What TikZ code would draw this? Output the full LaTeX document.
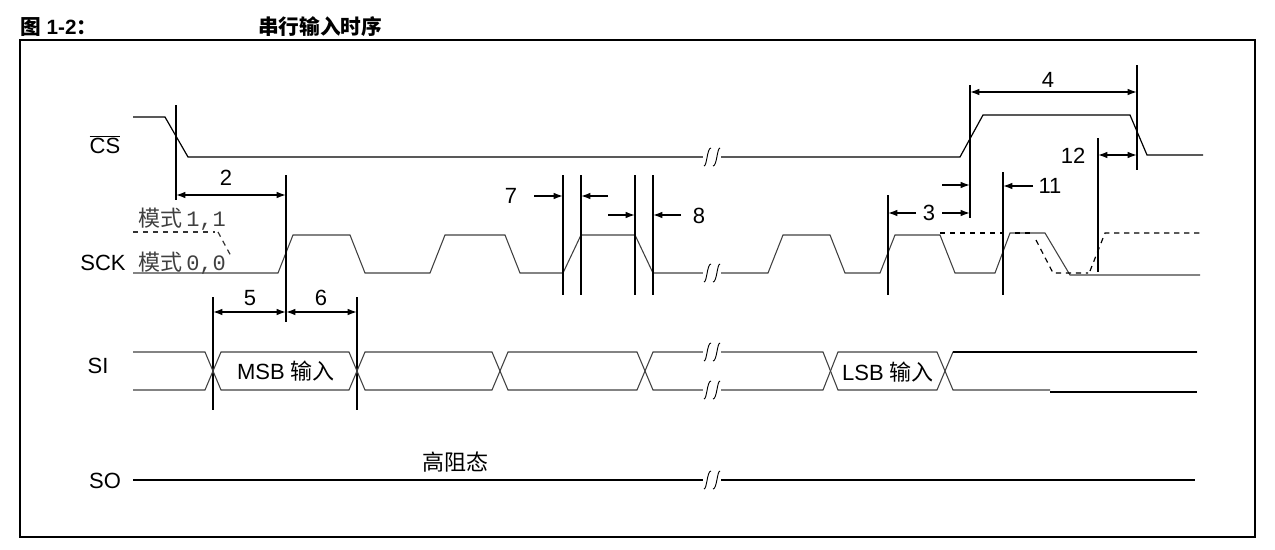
\documentclass[tikz,border=0pt]{standalone}
\usepackage{fontspec}
\setmainfont{Liberation Sans}
\setmonofont{Liberation Mono}
\newfontfamily\cjk{Noto Sans CJK SC}
\usetikzlibrary{arrows.meta}
\begin{document}
\begin{tikzpicture}[x=0.75pt,y=-0.75pt,
  sig/.style={line width=0.9pt,line join=miter},
  sigg/.style={line width=0.8pt,draw=black!75},
  dsh/.style={line width=0.9pt,dash pattern=on 4pt off 3.5pt},
  vmark/.style={line width=1.1pt},
  dim/.style={line width=1.1pt,-{Latex[length=7pt,width=5pt]}},
  ddim/.style={line width=1.1pt,{Latex[length=7pt,width=5pt]}-{Latex[length=7pt,width=5pt]}},
  lab/.style={font=\fontsize{16.5}{16.5}\selectfont,inner sep=1pt},
  brk/.pic={\fill[white] (-9,-10) rectangle (9,10);
    \draw[line width=0.7pt] (-8,9) .. controls (-5,9) and (-5,-9) .. (-1,-9);
    \draw[line width=0.7pt] (1,9) .. controls (5,9) and (5,-9) .. (8,-9);}]
\useasboundingbox (0,0) rectangle (1275,550);
\node[anchor=west,inner sep=0,font=\bfseries\fontsize{15.5}{15.5}\selectfont] (t1) at (20,27) {{\cjk 图} 1-2{\cjk ：}};
\node[anchor=west,inner sep=0,font=\bfseries\fontsize{15.5}{15.5}\selectfont] (t2) at (258,27) {\cjk 串行输入时序};
\draw[line width=1.2pt] (20,40) rectangle (1255,537);
% labels
\node[lab] (cs) at (105,145) {$\overline{\mbox{CS}}$};
\node[lab] (sck) at (103,263) {SCK};
\node[lab] (si) at (98,366) {SI};
\node[lab] (so) at (105,481) {SO};
\node[lab,anchor=west,text=black!75] (m11) at (137,219) {{\cjk 模式}\,\texttt{1,1}};
\node[lab,anchor=west,text=black!75] (m00) at (137,263) {{\cjk 模式}\,\texttt{0,0}};
% CS
\draw[sig] (133,117) -- (165,117) -- (188,157) -- (960,157) -- (983,115) -- (1130,115) -- (1147,155) -- (1203,155);
\pic at (712,157) {brk};
% SCK
\draw[sigg] (133,273) -- (278,273) -- (293,235) -- (350,235) -- (365,273) -- (430,273) -- (445,235) -- (505,235) -- (520,273) -- (563,273) -- (581,235) -- (635,235) -- (653,273) -- (768,273) -- (783,235) -- (830,235) -- (845,273) -- (880,273) -- (895,235) -- (940,235) -- (955,273) -- (995,273) -- (1010,233) -- (1045,233) -- (1070,275) -- (1200,275);
\draw[dsh,black!80] (133,232) -- (215,232);
\draw[dsh,black!80] (218,232) -- (232,258);
\draw[dsh] (940,233) -- (1003,233);
\draw[dsh] (1015,233) -- (1030,233);
\draw[dsh] (1036,240) -- (1053,273) -- (1088,273);
\draw[dsh] (1090,271) -- (1105,233) -- (1200,233);
\pic at (712,273) {brk};
% SCK markers
\draw[vmark] (176,105) -- (176,200);
\draw[vmark] (286,175) -- (286,322);
\draw[vmark] (563,175) -- (563,295);
\draw[vmark] (581,175) -- (581,295);
\draw[vmark] (635,175) -- (635,295);
\draw[vmark] (653,175) -- (653,295);
\draw[vmark] (888,195) -- (888,295);
\draw[vmark] (970,85) -- (970,218);
\draw[vmark] (1003,172) -- (1003,295);
\draw[vmark] (1098,138) -- (1098,272);
\draw[vmark] (1137,65) -- (1137,170);
\draw[vmark] (213,297) -- (213,410);
\draw[vmark] (357,297) -- (357,410);
% dims
\draw[ddim] (176,195) -- (286,195); \node[lab] (n2) at (226,178) {2};
\draw[ddim] (970,92) -- (1137,92); \node[lab] (n4) at (1048,80) {4};
\draw[ddim] (1098,155) -- (1137,155); \node[lab] (n12) at (1073,156) {12};
\node[lab] (n3) at (929,213) {3};
\draw[dim] (916,213) -- (888,213); \draw[dim] (942,213) -- (970,213);
\draw[dim] (942,185) -- (970,185);
\node[lab] (n11) at (1050,186) {11};
\draw[dim] (1033,186) -- (1003,186);
\node[lab] (n7) at (511,196) {7};
\draw[dim] (534,196) -- (563,196); \draw[dim] (608,196) -- (581,196);
\node[lab] (n8) at (699,216) {8};
\draw[dim] (608,215) -- (635,215); \draw[dim] (681,215) -- (653,215);
\draw[ddim] (213,312) -- (286,312); \node[lab] (n5) at (250,298) {5};
\draw[ddim] (286,312) -- (357,312); \node[lab] (n6) at (321,298) {6};
% SI
\draw[sigg] (133,352) -- (205,352) -- (221,390) -- (349,390) -- (365,352) -- (492,352) -- (508,390) -- (637,390) -- (653,352) -- (823,352) -- (838,390) -- (937,390) -- (953,352) -- (1197,352);
\draw[sigg] (133,390) -- (205,390) -- (221,352) -- (349,352) -- (365,390) -- (492,390) -- (508,352) -- (637,352) -- (653,390) -- (823,390) -- (838,352) -- (937,352) -- (953,390) -- (1050,390);
\draw[sig] (1050,392) -- (1197,392);
\draw[sig] (953,352) -- (1197,352);
\pic at (712,352) {brk}; \pic at (712,390) {brk};
\node[lab] (msb) at (286,371) {MSB {\cjk 输入}};
\node[lab] (lsb) at (888,372) {LSB {\cjk 输入}};
% SO
\draw[sig] (133,480) -- (1195,480);
\pic at (712,480) {brk};
\node[lab] (hz) at (455,462) {\cjk 高阻态};
\end{tikzpicture}
\end{document}
